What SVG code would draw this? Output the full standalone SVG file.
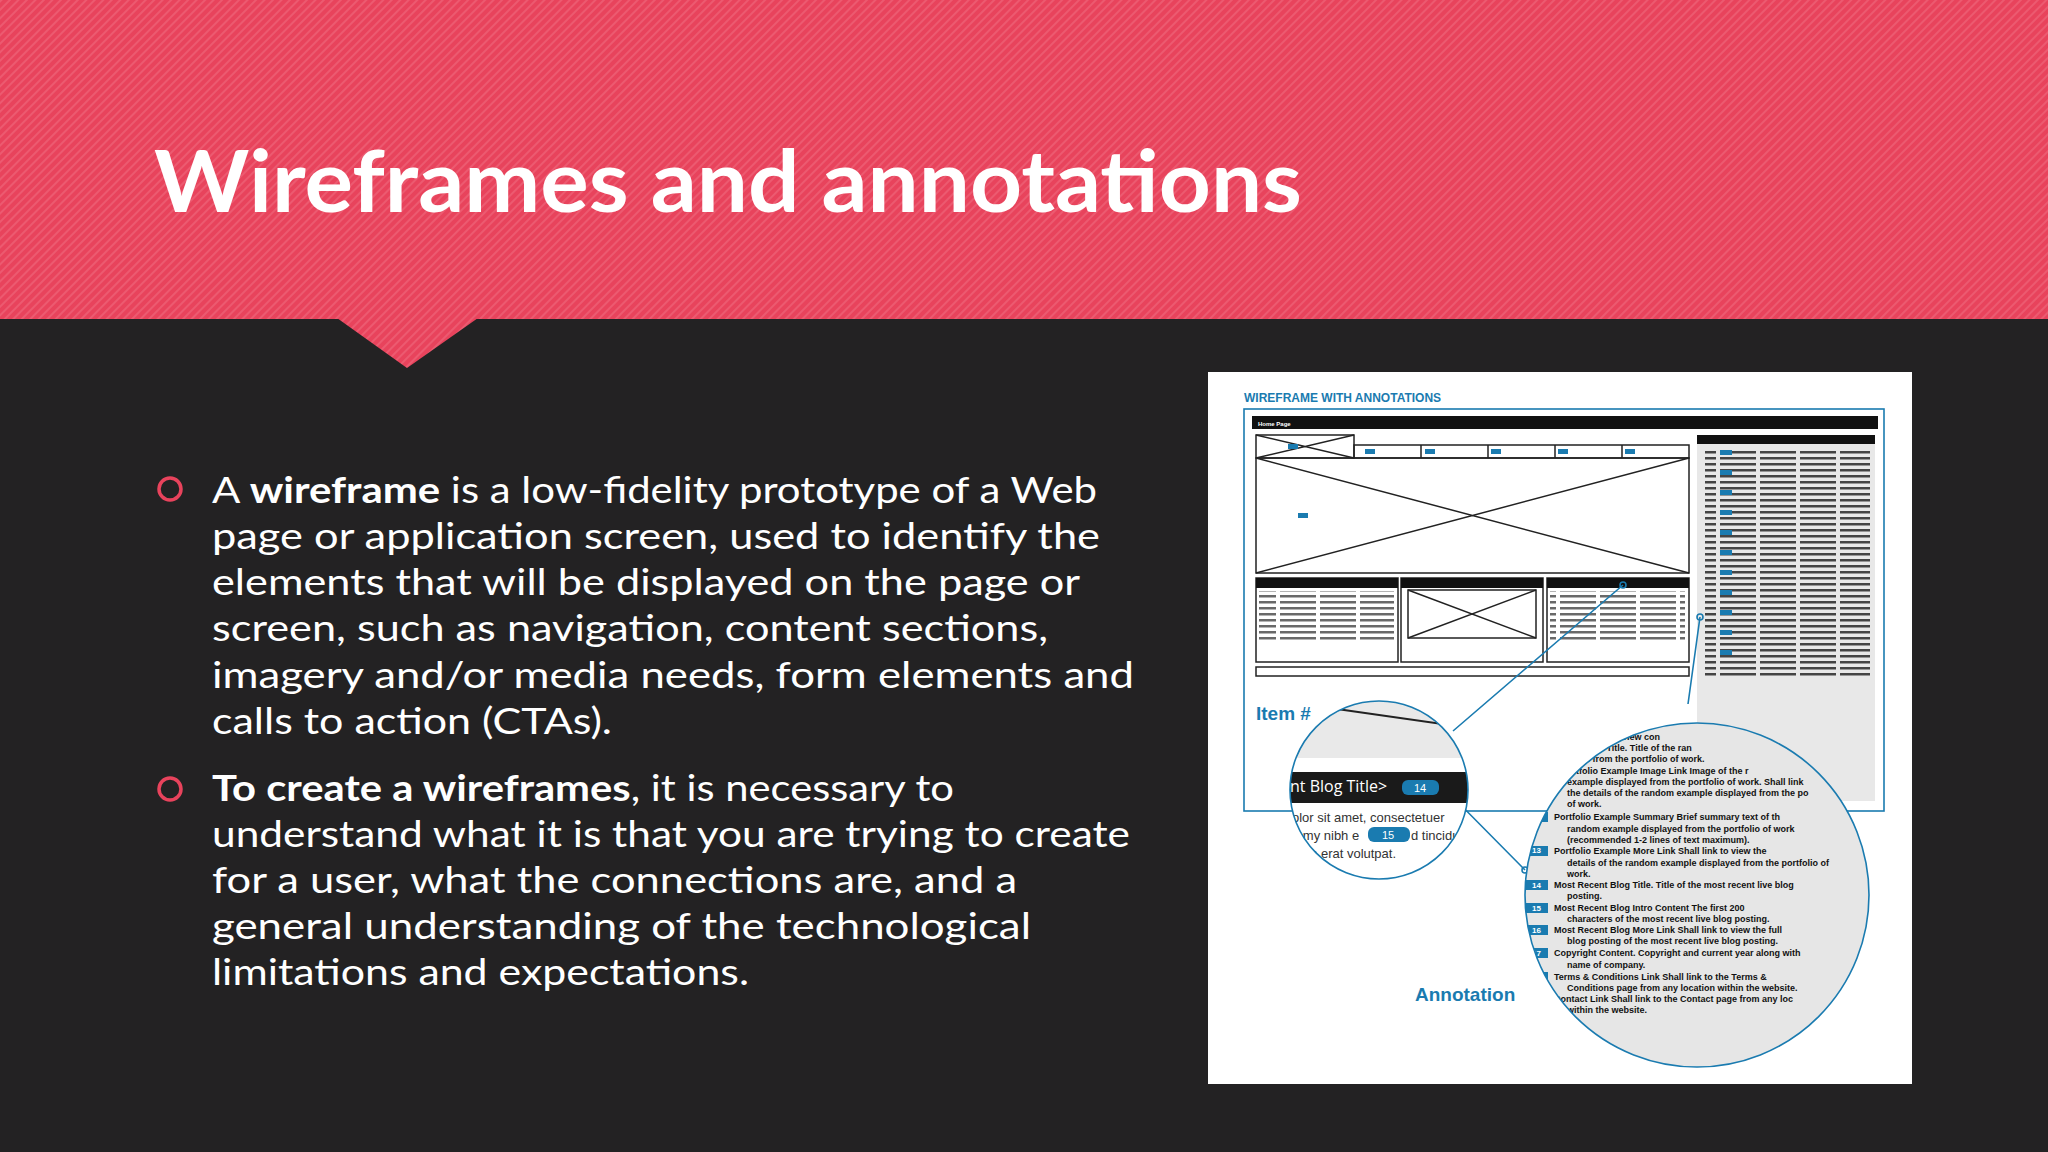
<svg xmlns="http://www.w3.org/2000/svg" width="2048" height="1152" viewBox="0 0 2048 1152">
<defs>
<pattern id="str" width="6" height="6" patternUnits="userSpaceOnUse" patternTransform="rotate(45)">
<rect width="6" height="6" fill="#e8435c"/><rect width="2" height="6" fill="#ec5a70"/>
</pattern>
<pattern id="txt" width="40" height="6" patternUnits="userSpaceOnUse">
<rect x="0" y="1" width="36" height="2.5" fill="#444"/>
</pattern>
<clipPath id="cl"><circle cx="1379" cy="790" r="89"/></clipPath>
<clipPath id="cr"><circle cx="1697" cy="895" r="172"/></clipPath>
<style>
.b{font-family:"Lato","Noto Sans",sans-serif;font-size:37px;fill:#fff}
.bb{font-weight:bold}
.bl{fill:#1a7bb0;font-family:"Liberation Sans",sans-serif;font-weight:bold}
.at{font-family:"Liberation Sans",sans-serif;font-size:9px;fill:#111;font-weight:bold}
.k{fill:none;stroke:#222;stroke-width:1.5}
.ln{stroke:#1a7bb0;stroke-width:1.6;fill:none}
</style>
</defs>
<rect width="2048" height="1152" fill="#232223"/>
<g id="header">
<rect width="2048" height="319" fill="url(#str)"/>
<polygon points="337,318 478,318 407,368" fill="url(#str)"/>
<text x="154" y="212" font-family="Lato,'Noto Sans',sans-serif" font-weight="bold" font-size="86" fill="#fff" textLength="1148" lengthAdjust="spacingAndGlyphs">Wireframes and annotations</text>
</g>
<g id="bullets">
<circle cx="170" cy="489" r="11" fill="none" stroke="#e8435c" stroke-width="3.5"/>
<circle cx="170" cy="789" r="11" fill="none" stroke="#e8435c" stroke-width="3.5"/>
<text class="b" x="212" y="503" textLength="885" lengthAdjust="spacingAndGlyphs">A <tspan class="bb">wireframe</tspan> is a low-fidelity prototype of a Web</text>
<text class="b" x="212" y="549" textLength="888" lengthAdjust="spacingAndGlyphs">page or application screen, used to identify the</text>
<text class="b" x="212" y="595" textLength="868" lengthAdjust="spacingAndGlyphs">elements that will be displayed on the page or</text>
<text class="b" x="212" y="641" textLength="836" lengthAdjust="spacingAndGlyphs">screen, such as navigation, content sections,</text>
<text class="b" x="212" y="688" textLength="922" lengthAdjust="spacingAndGlyphs">imagery and/or media needs, form elements and</text>
<text class="b" x="212" y="734" textLength="400" lengthAdjust="spacingAndGlyphs">calls to action (CTAs).</text>
<text class="b" x="212" y="801" textLength="742" lengthAdjust="spacingAndGlyphs"><tspan class="bb">To create a wireframes</tspan>, it is necessary to</text>
<text class="b" x="212" y="847" textLength="918" lengthAdjust="spacingAndGlyphs">understand what it is that you are trying to create</text>
<text class="b" x="212" y="893" textLength="805" lengthAdjust="spacingAndGlyphs">for a user, what the connections are, and a</text>
<text class="b" x="212" y="939" textLength="819" lengthAdjust="spacingAndGlyphs">general understanding of the technological</text>
<text class="b" x="212" y="985" textLength="537" lengthAdjust="spacingAndGlyphs">limitations and expectations.</text>
</g>
<g id="wireframe">
<rect x="1208" y="372" width="704" height="712" fill="#fff"/>
<text class="bl" x="1244" y="402" font-size="12">WIREFRAME WITH ANNOTATIONS</text>
<rect x="1244" y="409" width="640" height="402" fill="#fff" class="ln"/>
<rect x="1252" y="416" width="626" height="13" fill="#111"/>
<text x="1258" y="426" font-family="Liberation Sans,sans-serif" font-size="6" font-weight="bold" fill="#fff">Home Page</text>
<rect x="1697" y="435" width="178" height="366" fill="#e8e8e8"/>
<rect x="1697" y="435" width="178" height="9" fill="#111"/>
<rect x="1705" y="448" width="165" height="228" fill="url(#txt)"/>
<rect x="1256" y="435" width="98" height="23" fill="#eee" class="k"/>
<path d="M1256,435 L1354,458 M1354,435 L1256,458" class="k"/>
<rect x="1354" y="445" width="335" height="13" fill="#eee" class="k"/>
<path d="M1421,445v13M1488,445v13M1555,445v13M1622,445v13" class="k"/>
<rect x="1256" y="458" width="433" height="115" fill="#eee" class="k"/>
<path d="M1256,458 L1689,573 M1689,458 L1256,573" class="k"/>
<g fill="#eee" class="k">
<rect x="1256" y="578" width="142" height="84"/><rect x="1401" y="578" width="142" height="84"/><rect x="1547" y="578" width="142" height="84"/>
<rect x="1256" y="667" width="433" height="9"/>
</g>
<rect x="1256" y="578" width="142" height="10" fill="#111"/><rect x="1401" y="578" width="142" height="10" fill="#111"/><rect x="1547" y="578" width="142" height="10" fill="#111"/>
<rect x="1408" y="590" width="128" height="48" fill="#eee" class="k"/>
<path d="M1408,590 L1536,638 M1536,590 L1408,638" class="k"/>
<rect x="1259" y="591" width="135" height="50" fill="url(#txt)" opacity="0.8"/>
<rect x="1550" y="591" width="135" height="50" fill="url(#txt)" opacity="0.8"/>
<g fill="#1a7bb0"><rect x="1288" y="444" width="10" height="5"/><rect x="1298" y="513" width="10" height="5"/><rect x="1365" y="449" width="10" height="5"/><rect x="1425" y="449" width="10" height="5"/><rect x="1491" y="449" width="10" height="5"/><rect x="1558" y="449" width="10" height="5"/><rect x="1625" y="449" width="10" height="5"/><rect x="1720" y="450" width="12" height="5"/><rect x="1720" y="470" width="12" height="5"/><rect x="1720" y="490" width="12" height="5"/><rect x="1720" y="510" width="12" height="5"/><rect x="1720" y="530" width="12" height="5"/><rect x="1720" y="550" width="12" height="5"/><rect x="1720" y="570" width="12" height="5"/><rect x="1720" y="590" width="12" height="5"/><rect x="1720" y="610" width="12" height="5"/><rect x="1720" y="630" width="12" height="5"/><rect x="1720" y="650" width="12" height="5"/></g>
<text class="bl" x="1256" y="720" font-size="19">Item #</text>
<path d="M1453,731 L1623,585 M1688,704 L1700,617 M1439,783 L1525,870" class="ln"/>
<circle cx="1623" cy="585" r="3" fill="#fff" class="ln"/><circle cx="1700" cy="617" r="3" fill="#fff" class="ln"/><circle cx="1525" cy="870" r="3" fill="#fff" class="ln"/>
<g clip-path="url(#cl)">
<rect x="1280" y="690" width="200" height="200" fill="#e9e9e9"/>
<rect x="1280" y="758" width="200" height="14" fill="#fff"/>
<path d="M1330,708 L1470,728" stroke="#222" stroke-width="2"/>
<rect x="1280" y="772" width="200" height="31" fill="#1a1a1a"/>
<text x="1290" y="792" font-family="Open Sans,sans-serif" font-size="16" fill="#fff">nt Blog Title&gt;</text>
<rect x="1402" y="780" width="37" height="15" rx="6" fill="#1a7bb0"/>
<text x="1414" y="792" font-family="Liberation Sans,sans-serif" font-size="11" fill="#fff">14</text>
<rect x="1280" y="803" width="200" height="90" fill="#fff"/>
<text x="1292" y="822" font-family="Liberation Sans,sans-serif" font-size="13" fill="#333">olor sit amet, consectetuer</text>
<text x="1292" y="840" font-family="Liberation Sans,sans-serif" font-size="13" fill="#333">mmy nibh e</text>
<text x="1411" y="840" font-family="Liberation Sans,sans-serif" font-size="13" fill="#333">d tincidun</text>
<rect x="1368" y="827" width="42" height="15" rx="6" fill="#1a7bb0"/>
<text x="1382" y="839" font-family="Liberation Sans,sans-serif" font-size="11" fill="#fff">15</text>
<text x="1292" y="858" font-family="Liberation Sans,sans-serif" font-size="13" fill="#333">uam erat volutpat.</text>
</g>
<circle cx="1379" cy="790" r="89" class="ln"/>
<g clip-path="url(#cr)">
<rect x="1520" y="720" width="360" height="360" fill="#e6e6e6"/>
<text class="at" x="1567" y="740">General overview con</text>
<text class="at" x="1567" y="751">Example  Title.  Title of the ran</text>
<text class="at" x="1567" y="762">layed from the portfolio of work.</text>
<text class="at" x="1567" y="774">ortfolio Example  Image Link  Image of the r</text>
<text class="at" x="1567" y="785">example displayed from the portfolio of work. Shall link</text>
<text class="at" x="1567" y="796">the details of the random example displayed from the po</text>
<text class="at" x="1567" y="807">of work.</text>
<text class="at" x="1554" y="820">Portfolio Example  Summary  Brief summary text of th</text>
<text class="at" x="1567" y="832">random example displayed from the portfolio of work</text>
<text class="at" x="1567" y="843">(recommended 1-2 lines of text maximum).</text>
<text class="at" x="1554" y="854">Portfolio Example  More Link  Shall link to view the</text>
<text class="at" x="1567" y="866">details of the random example displayed from the portfolio of</text>
<text class="at" x="1567" y="877">work.</text>
<text class="at" x="1554" y="888">Most Recent Blog  Title.  Title of the most recent live blog</text>
<text class="at" x="1567" y="899">posting.</text>
<text class="at" x="1554" y="911">Most Recent Blog  Intro Content  The first 200</text>
<text class="at" x="1567" y="922">characters of the most recent live blog posting.</text>
<text class="at" x="1554" y="933">Most Recent Blog  More Link  Shall link to view the full</text>
<text class="at" x="1567" y="944">blog posting of the most recent live blog posting.</text>
<text class="at" x="1554" y="956">Copyright Content.  Copyright and current year along with</text>
<text class="at" x="1567" y="968">name of company.</text>
<text class="at" x="1554" y="980">Terms &amp; Conditions Link  Shall link to the Terms &amp;</text>
<text class="at" x="1567" y="991">Conditions page from any location within the website.</text>
<text class="at" x="1554" y="1002">Contact Link  Shall link to the Contact page from any loc</text>
<text class="at" x="1567" y="1013">within the website.</text>
<g fill="#1a7bb0"><rect x="1526" y="812" width="22" height="10"/><rect x="1526" y="846" width="22" height="10"/><rect x="1526" y="880" width="22" height="10"/><rect x="1526" y="903" width="22" height="10"/><rect x="1526" y="925" width="22" height="10"/><rect x="1526" y="948" width="22" height="10"/><rect x="1526" y="972" width="22" height="10"/></g>
<g font-family="Liberation Sans,sans-serif" font-size="8" font-weight="bold" fill="#fff"><text x="1532" y="853">13</text><text x="1532" y="888">14</text><text x="1532" y="911">15</text><text x="1532" y="933">16</text><text x="1532" y="956">17</text></g>
</g>
<circle cx="1697" cy="895" r="172" class="ln"/>
<text class="bl" x="1415" y="1001" font-size="19">Annotation</text>
</g>
</svg>
